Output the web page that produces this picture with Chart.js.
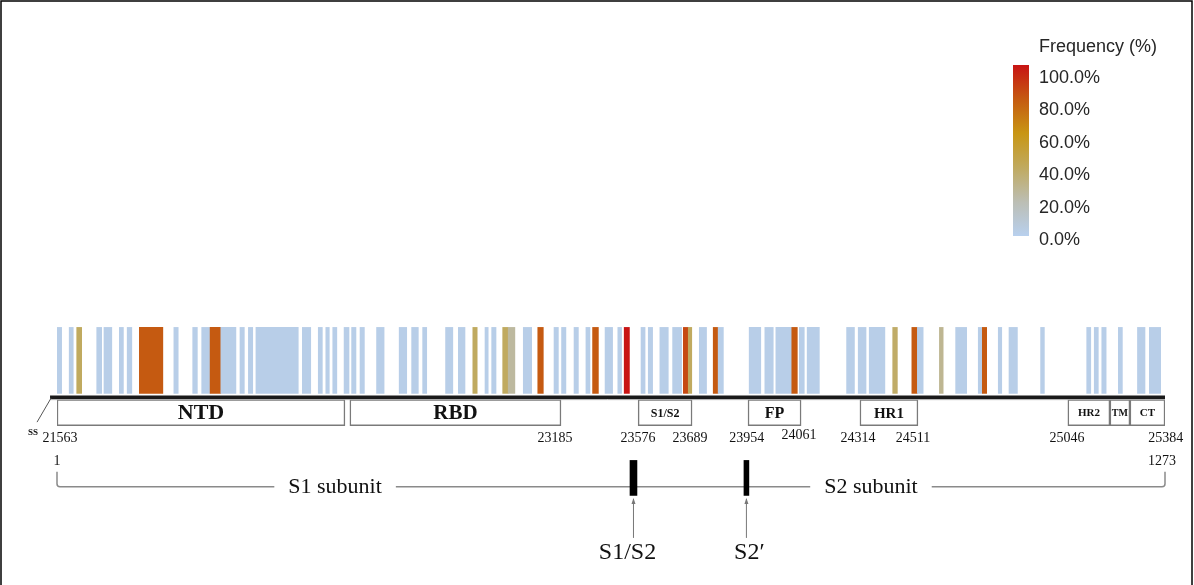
<!DOCTYPE html>
<html>
<head>
<meta charset="utf-8">
<script src="https://cdn.jsdelivr.net/npm/chart.js@4.4.0/dist/chart.umd.min.js"></script>
<style>
  html, body { margin: 0; padding: 0; background: #fff; }
</style>
</head>
<body>
<canvas id="canvas-spike" width="1194" height="585"></canvas>
<script>
// mutated stretches along the spike gene (genome nt) and their frequency (%)
const mutStart = [21563, 21605, 21631, 21700, 21725, 21778, 21805, 21847, 21966, 22031,
  22062, 22091, 22128, 22194, 22223, 22249, 22409, 22464, 22490, 22514,
  22553, 22579, 22608, 22665, 22743, 22786, 22824, 22903, 22947, 22997,
  23039, 23062, 23100, 23119, 23171, 23221, 23277, 23303, 23346, 23387,
  23410, 23453, 23497, 23519, 23577, 23602, 23642, 23686, 23723, 23740,
  23778, 23826, 23843, 23950, 24004, 24042, 24097, 24123, 24150, 24286,
  24326, 24364, 24445, 24511, 24530, 24606, 24662, 24740, 24754, 24809,
  24846, 24955, 25114, 25140, 25166, 25223, 25289, 25330];
const mutEnd = [21579, 21619, 21648, 21717, 21752, 21792, 21821, 21928, 21981, 22047,
  22091, 22128, 22180, 22209, 22238, 22395, 22438, 22478, 22502, 22528,
  22570, 22594, 22623, 22691, 22769, 22809, 22838, 22928, 22970, 23012,
  23050, 23077, 23119, 23142, 23200, 23240, 23292, 23318, 23361, 23401,
  23430, 23479, 23510, 23537, 23591, 23617, 23671, 23717, 23740, 23752,
  23803, 23843, 23861, 23990, 24033, 24097, 24116, 24140, 24192, 24313,
  24353, 24418, 24461, 24530, 24550, 24619, 24700, 24754, 24769, 24821,
  24875, 24968, 25128, 25154, 25181, 25237, 25315, 25369];
const mutFreq = [2, 2, 40, 2, 2, 2, 2, 80, 2, 2,
  2, 80, 2, 2, 2, 2, 2, 2, 2, 2,
  2, 2, 2, 2, 2, 2, 2, 2, 2, 40,
  2, 2, 40, 25, 2, 80, 2, 2, 2, 2,
  80, 2, 2, 100, 2, 2, 2, 2, 85, 40,
  2, 80, 2, 2, 2, 2, 80, 2, 2, 2,
  2, 2, 38, 80, 2, 28, 2, 2, 80, 2,
  2, 2, 2, 2, 2, 2, 2, 2];

// protein domains (drawn on the same genome axis)
const domainNames = ['NTD', 'RBD', 'S1/S2', 'FP', 'HR1', 'HR2', 'TM', 'CT'];
const domainStart = [21563, 22573, 23567, 23946, 24332, 25049, 25194, 25263];
const domainEnd = [22556, 23301, 23753, 24129, 24532, 25194, 25263, 25384];
const domainFont = [22, 21, 12, 16, 15, 11, 10, 11];

// nucleotide position labels under the boxes
const posLabels = ['21563', '23185', '23576', '23689', '23954', '24061', '24314', '24511', '25046', '25384'];
const posAt = [21573, 23280, 23567, 23746, 23942, 24122, 24325, 24515, 25046, 25387];

// cleavage sites
const cleaveNames = ['S1/S2', 'S2\u2032'];
const cleaveStart = [23539, 23932];
const cleaveEnd = [23563, 23949];

const subunitNames = ['S1 subunit', 'S2 subunit'];
const subunitAt = [22522, 24370];

const legendTicks = ['100.0%', '80.0%', '60.0%', '40.0%', '20.0%', '0.0%'];

// colour scale for frequency
const colorStops = [
  [0, [184, 208, 238]],
  [20, [188, 190, 180]],
  [40, [192, 170, 95]],
  [60, [200, 150, 20]],
  [80, [197, 90, 17]],
  [100, [200, 20, 20]],
];

function freqColor(f) {
  for (let i = 1; i < colorStops.length; i++) {
    if (f <= colorStops[i][0]) {
      const a = colorStops[i - 1], b = colorStops[i];
      const t = (f - a[0]) / (b[0] - a[0]);
      const c = a[1].map((v, k) => Math.round(v + (b[1][k] - v) * t));
      return 'rgb(' + c.join(',') + ')';
    }
  }
  return 'rgb(' + colorStops[colorStops.length - 1][1].join(',') + ')';
}

const SERIF = '"Liberation Serif", "Times New Roman", serif';
const SANS = '"Liberation Sans", Arial, sans-serif';

const MUT_ROW = 1;
const DOMAIN_ROW = 0;
const CLEAVE_ROW = -1.25;
const BRACKET_ROW = -1.42;

const spikeDecor = {
  id: 'spikeDecor',
  beforeDatasetsDraw(chart) {
    const c = chart.ctx;
    const xs = chart.scales.x, ys = chart.scales.y;
    // subunit bracket
    const yl = ys.getPixelForValue(BRACKET_ROW);
    const x1 = xs.getPixelForValue(21563), x2 = xs.getPixelForValue(25384);
    c.save();
    c.font = '22px ' + SERIF;
    c.fillStyle = '#111';
    c.textAlign = 'center';
    c.textBaseline = 'middle';
    const gaps = subunitNames.map((n, i) => {
      const cx = xs.getPixelForValue(subunitAt[i]);
      const w = c.measureText(n).width;
      c.fillText(n, cx, yl);
      return [cx - w / 2 - 14, cx + w / 2 + 14];
    });
    c.strokeStyle = '#8a8a8a';
    c.lineWidth = 1.5;
    c.beginPath();
    c.moveTo(x1, yl - 15);
    c.lineTo(x1, yl - 3);
    c.quadraticCurveTo(x1, yl, x1 + 3, yl);
    c.lineTo(gaps[0][0], yl);
    c.moveTo(gaps[0][1], yl);
    c.lineTo(gaps[1][0], yl);
    c.moveTo(gaps[1][1], yl);
    c.lineTo(x2 - 3, yl);
    c.quadraticCurveTo(x2, yl, x2, yl - 3);
    c.lineTo(x2, yl - 15);
    c.stroke();
    c.font = '14px ' + SERIF;
    c.fillText('1', x1, yl - 25);
    c.fillText('1273', x2 - 3, yl - 25);
    c.restore();
  },
  afterDraw(chart) {
    const c = chart.ctx;
    const xs = chart.scales.x, ys = chart.scales.y;
    c.save();
    // frame
    c.strokeStyle = '#000';
    c.lineWidth = 1.5;
    c.strokeRect(1, 1, 1191, 600);

    // backbone
    const yb = ys.getPixelForValue(DOMAIN_ROW) - 15.5;
    c.strokeStyle = '#1a1a1a';
    c.lineWidth = 3.5;
    c.beginPath();
    c.moveTo(xs.getPixelForValue(21539), yb);
    c.lineTo(xs.getPixelForValue(25384), yb);
    c.stroke();
    c.strokeStyle = '#aaa';
    c.lineWidth = 1;
    c.beginPath();
    c.moveTo(xs.getPixelForValue(21539), yb + 2.5);
    c.lineTo(xs.getPixelForValue(25384), yb + 2.5);
    c.stroke();

    // signal peptide
    const xss = xs.getPixelForValue(21539);
    c.strokeStyle = '#555';
    c.lineWidth = 1;
    c.beginPath();
    c.moveTo(xss + 1, yb + 1);
    c.lineTo(xss - 13, yb + 25);
    c.stroke();
    c.fillStyle = '#111';
    c.font = 'bold 9px ' + SERIF;
    c.textAlign = 'center';
    c.textBaseline = 'middle';
    c.fillText('SS', xss - 17, yb + 36);

    // domain labels
    const yd = ys.getPixelForValue(DOMAIN_ROW) + 1;
    domainNames.forEach((n, i) => {
      c.font = 'bold ' + domainFont[i] + 'px ' + SERIF;
      c.fillText(n, xs.getPixelForValue((domainStart[i] + domainEnd[i]) / 2), yd);
    });

    // nucleotide positions
    c.font = '14px ' + SERIF;
    posLabels.forEach((t, i) => {
      const dy = t === '24061' ? -3 : 0;
      c.fillText(t, xs.getPixelForValue(posAt[i]), yd + 25 + dy);
    });

    // cleavage arrows and names
    const yc = ys.getPixelForValue(CLEAVE_ROW);
    cleaveNames.forEach((n, i) => {
      const cx = xs.getPixelForValue((cleaveStart[i] + cleaveEnd[i]) / 2);
      const top = yc + 21, bot = yc + 60;
      c.strokeStyle = '#777';
      c.lineWidth = 1;
      c.beginPath();
      c.moveTo(cx, bot);
      c.lineTo(cx, top);
      c.stroke();
      c.fillStyle = '#777';
      c.beginPath();
      c.moveTo(cx, top - 1);
      c.lineTo(cx - 2, top + 5);
      c.lineTo(cx + 2, top + 5);
      c.closePath();
      c.fill();
      c.fillStyle = '#111';
      c.font = '24px ' + SERIF;
      c.fillText(n, cx - (i === 0 ? 6 : -3), bot + 15);
    });

    // colour legend
    const lx = 1013, lt = 65, lb = 236, lw = 16;
    const g = c.createLinearGradient(0, lb, 0, lt);
    colorStops.forEach(s => g.addColorStop(s[0] / 100, 'rgb(' + s[1].join(',') + ')'));
    c.fillStyle = g;
    c.fillRect(lx, lt, lw, lb - lt);
    c.fillStyle = '#262626';
    c.textAlign = 'left';
    c.font = '18px ' + SANS;
    c.fillText('Frequency (%)', 1039, 47);
    legendTicks.forEach((t, i) => {
      c.fillText(t, 1039, 78 + i * 32.5);
    });
    c.restore();
  }
};

const ctx = document.getElementById('canvas-spike').getContext('2d');
new Chart(ctx, {
  type: 'bar',
  data: {
    datasets: [
      {
        label: 'Mutations',
        data: mutStart.map((s, i) => ({ x: [s, mutEnd[i]], y: MUT_ROW })),
        backgroundColor: mutFreq.map(freqColor),
        borderWidth: 0,
        barThickness: 66,
        grouped: false,
      },
      {
        label: 'Domains',
        data: domainStart.map((s, i) => ({ x: [s, domainEnd[i]], y: DOMAIN_ROW })),
        backgroundColor: '#fff',
        borderColor: '#7a7a7a',
        borderWidth: 1.5,
        borderSkipped: false,
        barThickness: 26,
        grouped: false,
      },
      {
        label: 'Cleavage',
        data: cleaveStart.map((s, i) => ({ x: [s, cleaveEnd[i]], y: CLEAVE_ROW })),
        backgroundColor: '#000',
        borderWidth: 0,
        barThickness: 35,
        grouped: false,
      },
    ],
  },
  options: {
    indexAxis: 'y',
    responsive: false,
    animation: false,
    layout: { padding: { left: 57, right: 29, top: 0, bottom: 0 } },
    scales: {
      x: { type: 'linear', min: 21563, max: 25384, display: false, offset: false },
      y: { type: 'linear', min: -3.3, max: 7.9, display: false, offset: false },
    },
    plugins: {
      legend: { display: false },
      tooltip: { enabled: false },
    },
  },
  plugins: [spikeDecor],
});
</script>
</body>
</html>
